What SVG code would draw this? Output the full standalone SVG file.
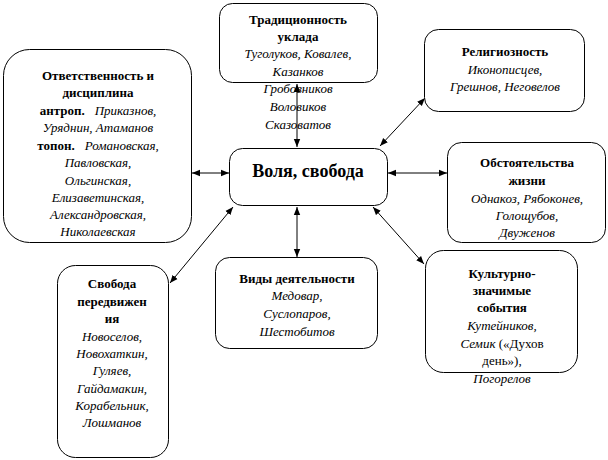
<svg xmlns="http://www.w3.org/2000/svg" width="608" height="460" viewBox="0 0 608 460" font-family="Liberation Serif, DejaVu Serif, serif">
<style>
.box{fill:#fff;stroke:#000;stroke-width:1}
text{font-size:13px;fill:#000;text-anchor:middle}
.b{font-weight:bold}
.i{font-style:italic}
.big{font-size:18px;font-weight:bold}
.con{stroke:#000;stroke-width:1;fill:none;marker-start:url(#ah);marker-end:url(#ah)}
</style>
<defs>
<marker id="ah" viewBox="0 0 10 10" refX="10" refY="5" markerWidth="8" markerHeight="8" markerUnits="userSpaceOnUse" orient="auto-start-reverse">
<path d="M0,1 L10,5 L0,9 z" fill="#000"/>
</marker>
</defs>
<rect width="608" height="460" fill="#fff"/>
<g id="connectors">
<line class="con" x1="297" y1="84" x2="297" y2="147"/>
<line class="con" x1="192" y1="173" x2="229" y2="173"/>
<line class="con" x1="388" y1="173" x2="447" y2="173"/>
<line class="con" x1="380" y1="146" x2="425" y2="98"/>
<line class="con" x1="373" y1="207" x2="424" y2="264"/>
<line class="con" x1="297" y1="207" x2="297" y2="257"/>
<line class="con" x1="233" y1="207" x2="170" y2="283"/>
</g>
<g id="n-trad">
<rect class="box" x="219.5" y="3.5" width="158" height="79" rx="13"/>
<text x="298" y="24" class="b">Традиционность</text>
<text x="298" y="41" class="b">уклада</text>
<text x="298" y="58" class="i">Туголуков, Ковалев,</text>
<text x="298" y="76" class="i">Казанков</text>
<text x="298" y="93" class="i">Гробовников</text>
<text x="298" y="111" class="i">Воловиков</text>
<text x="298" y="129" class="i">Сказоватов</text>
</g>
<g id="n-main">
<rect class="box" x="229.5" y="148.5" width="158" height="57" rx="13"/>
<text x="308" y="177" class="big">Воля, свобода</text>
</g>
<g id="n-otv">
<rect class="box" x="3.5" y="49.5" width="188" height="193" rx="26"/>
<text x="98" y="80" class="b">Ответственность и</text>
<text x="98" y="97" class="b">дисциплина</text>
<text x="98" y="115"><tspan class="b">антроп.</tspan><tspan class="i" dx="10">Приказнов,</tspan></text>
<text x="98" y="132" class="i">Уряднин, Атаманов</text>
<text x="98" y="150"><tspan class="b">топон.</tspan><tspan class="i" dx="10">Романовская,</tspan></text>
<text x="98" y="167" class="i">Павловская,</text>
<text x="98" y="185" class="i">Ольгинская,</text>
<text x="98" y="202" class="i">Елизаветинская,</text>
<text x="98" y="219" class="i">Александровская,</text>
<text x="98" y="236" class="i">Николаевская</text>
</g>
<g id="n-rel">
<rect class="box" x="424.5" y="29.5" width="160" height="82" rx="14"/>
<text x="505" y="56" class="b">Религиозность</text>
<text x="505" y="74" class="i">Иконописцев,</text>
<text x="505" y="91" class="i">Грешнов, Неговелов</text>
</g>
<g id="n-obst">
<rect class="box" x="447.5" y="142.5" width="158" height="100" rx="14"/>
<text x="527" y="167" class="b">Обстоятельства</text>
<text x="527" y="185" class="b">жизни</text>
<text x="527" y="203" class="i">Однакоз, Рябоконев,</text>
<text x="527" y="220" class="i">Голощубов,</text>
<text x="527" y="237" class="i">Двуженов</text>
</g>
<g id="n-kult">
<rect class="box" x="425.5" y="250.5" width="152" height="122" rx="18"/>
<text x="502" y="278" class="b">Культурно-</text>
<text x="502" y="295" class="b">значимые</text>
<text x="502" y="312" class="b">события</text>
<text x="502" y="330" class="i">Кутейников,</text>
<text x="502" y="348"><tspan class="i">Семик</tspan> («Духов</text>
<text x="502" y="365">день»),</text>
<text x="502" y="383" class="i">Погорелов</text>
</g>
<g id="n-vidy">
<rect class="box" x="215.5" y="257.5" width="162" height="91" rx="14"/>
<text x="297" y="283" class="b">Виды деятельности</text>
<text x="297" y="300" class="i">Медовар,</text>
<text x="297" y="318" class="i">Суслопаров,</text>
<text x="297" y="336" class="i">Шестобитов</text>
</g>
<g id="n-svob">
<rect class="box" x="57.5" y="265.5" width="111" height="192" rx="18"/>
<text x="112" y="288" class="b">Свобода</text>
<text x="112" y="306" class="b">передвижен</text>
<text x="112" y="323" class="b">ия</text>
<text x="112" y="341" class="i">Новоселов,</text>
<text x="112" y="358" class="i">Новохаткин,</text>
<text x="112" y="375" class="i">Гуляев,</text>
<text x="112" y="393" class="i">Гайдамакин,</text>
<text x="112" y="410" class="i">Корабельник,</text>
<text x="112" y="427" class="i">Лошманов</text>
</g>
</svg>
